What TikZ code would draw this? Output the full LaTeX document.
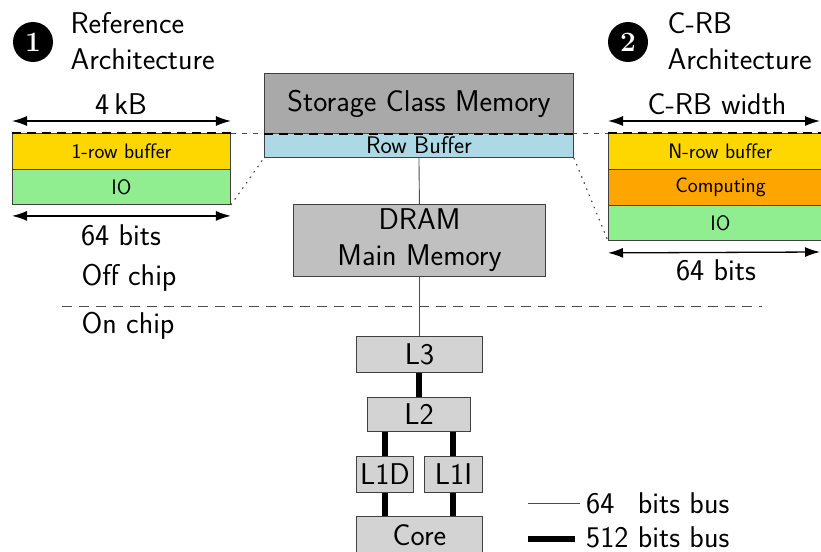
\documentclass[tikz,border=0pt]{standalone}
\usepackage{fontspec}
\usetikzlibrary{arrows.meta}
\definecolor{scmgray}{HTML}{A9A9A9}
\definecolor{dramgray}{HTML}{C0C0C0}
\definecolor{cachegray}{HTML}{D3D3D3}
\definecolor{rbblue}{HTML}{ADD8E6}
\definecolor{bufyellow}{HTML}{FFD700}
\definecolor{comporange}{HTML}{FFA500}
\definecolor{iogreen}{HTML}{90EE90}
\begin{document}
\begin{tikzpicture}[x=1pt,y=-1pt,font=\sffamily,
  big/.style={font=\sffamily\fontsize{30}{36}\selectfont},
  small/.style={font=\sffamily\fontsize{21}{22}\selectfont},
  box/.style={draw=black!75, line width=0.9pt, inner sep=0pt, anchor=north west},
  num/.style={circle, fill=black, text=white, minimum size=40pt, inner sep=0pt, font=\rmfamily\bfseries\fontsize{28}{28}\selectfont},
  dimarrow/.style={{Latex[length=15pt,width=10pt]}-{Latex[length=15pt,width=10pt]}, line width=1.3pt},
  bus64/.style={draw=black!70, line width=0.9pt},
  bus512/.style={draw=black, line width=6pt},
  guide/.style={dash pattern=on 1.6pt off 5pt, line width=1.1pt, black!75},
  topdash/.style={dash pattern=on 9pt off 6pt, line width=1.2pt},
  thindash/.style={dash pattern=on 5pt off 6pt, line width=0.6pt, black!70}]
\useasboundingbox (0,0) rectangle (821,551);
\clip (0,0) rectangle (821,551);
% titles
\node[num] (c1) at (33,42) {1};
\node[big, anchor=west, align=left] (t1) at (67,41) {Reference\\Architecture};
\node[num] (c2) at (628,42) {2};
\node[big, anchor=west, align=left] (t2) at (664,41) {C-RB\\Architecture};
% SCM
\node[box, fill=scmgray, minimum width=309pt, minimum height=60pt, big] (scm) at (264,73) {Storage Class Memory};
\node[box, fill=rbblue, minimum width=309pt, minimum height=24pt, font=\sffamily\fontsize{24}{24}\selectfont] (rowb) at (264,133) {Row Buffer};
% left box
\node[box, fill=bufyellow, minimum width=218pt, minimum height=36pt, small] (lb1) at (12,133) {1-row buffer};
\node[box, fill=iogreen, minimum width=218pt, minimum height=35pt, small] (lb2) at (12,169) {IO};
% right box
\node[box, fill=bufyellow, minimum width=224pt, minimum height=36pt, small] (rb1) at (608,133) {N-row buffer};
\node[box, fill=comporange, minimum width=224pt, minimum height=36pt, small] (rb2) at (608,169) {Computing};
\node[box, fill=iogreen, minimum width=224pt, minimum height=35pt, small] (rb3) at (608,205) {IO};
% dashed top line
\coordinate (dr) at (821,133);
\draw[thindash] (lb1.north east) -- (rb1.north west);
\draw[topdash] (lb1.north west) -- (lb1.north east);
\draw[topdash] (scm.south west) -- (scm.south east);
\draw[topdash] (rb1.north west) -- (dr);
% dimension arrows
\draw[dimarrow] ([yshift=12pt]lb1.north west) -- ([yshift=12pt]lb1.north east);
\node[big] (kb) at (121,104) {4\,kB};
\draw[dimarrow] ([yshift=-11pt]lb2.south west) -- ([yshift=-11pt]lb2.south east);
\node[big] (b64a) at (121,235) {64 bits};
\coordinate (rwl) at ([yshift=12pt]rb1.north west);
\coordinate (rwr) at (820,121);
\draw[dimarrow] (rwl) -- (rwr);
\node[big] (crbw) at (717,104) {C-RB width};
\coordinate (rbl) at ([yshift=-12pt]rb3.south west);
\coordinate (rbr) at (820,252);
\draw[dimarrow] (rbl) -- (rbr);
\node[big] (b64b) at (716,270) {64 bits};
% dotted guides
\draw[guide] (lb2.south east) -- (rowb.south west);
\draw[guide] (rowb.south east) -- (rb3.south west);
% DRAM
\node[box, fill=dramgray, minimum width=252pt, minimum height=72pt, big, align=center] (dram) at (293,204) {DRAM\\Main Memory};
% chip boundary
\node[big] (off) at (129,278) {Off chip};
\node[big] (on) at (128,326) {On chip};
\coordinate (cbl) at (62,306);
\coordinate (cbr) at (762,306);
\draw[dash pattern=on 10pt off 7pt, line width=0.9pt, black!70] (cbl) -- (cbr);
% caches
\node[box, fill=cachegray, minimum width=126pt, minimum height=36pt, big] (l3) at (356,336) {L3};
\node[box, fill=cachegray, minimum width=103pt, minimum height=34pt, big] (l2) at (367,397) {L2};
\node[box, fill=cachegray, minimum width=57pt, minimum height=36pt, big] (l1d) at (356,456) {L1D};
\node[box, fill=cachegray, minimum width=58pt, minimum height=36pt, big] (l1i) at (424,456) {L1I};
\node[box, fill=cachegray, minimum width=126pt, minimum height=38pt, big] (core) at (356,516) {Core};
% buses
\draw[bus64] (rowb.south) -- (dram.north);
\draw[bus64] (dram.south) -- (dram.south |- l3.north);
\draw[bus512] (l3.south) -- (l3.south |- l2.north);
\draw[bus512] (l1d.north) -- (l1d.north |- l2.south);
\draw[bus512] (l1i.north) -- (l1i.north |- l2.south);
\draw[bus512] (l1d.south) -- (l1d.south |- core.north);
\draw[bus512] (l1i.south) -- (l1i.south |- core.north);
% legend
\coordinate (la1) at (528,503);
\coordinate (la2) at (580,503);
\draw[bus64] (la1) -- (la2);
\node[big, anchor=base west, inner sep=0pt] (lt1) at (586,513) {\rlap{64}\phantom{512} bits bus};
\coordinate (lb1c) at (528,539);
\coordinate (lb2c) at (575,539);
\draw[bus512] (lb1c) -- (lb2c);
\node[big, anchor=base west, inner sep=0pt] (lt2) at (586,547) {512 bits bus};
\end{tikzpicture}
\end{document}
